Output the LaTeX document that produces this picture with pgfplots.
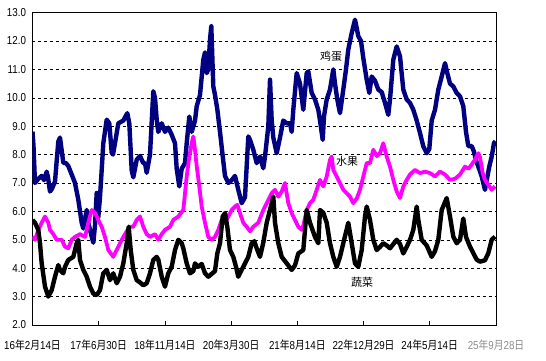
\documentclass[border=0pt]{standalone}
\usepackage{fontspec}
\setmainfont{Liberation Sans}[FakeStretch=0.85]
\newfontfamily\cjk{Noto Sans CJK SC}[FakeStretch=0.85]
\newfontfamily\cjklab{Noto Sans CJK SC}
\usepackage{pgfplots}
\pgfplotsset{compat=1.18}
\newcommand{\dt}[3]{#1{\cjk 年}#2{\cjk 月}#3{\cjk 日}}
\definecolor{eggblue}{RGB}{0,0,128}
\definecolor{fruitpink}{RGB}{255,0,255}
\begin{document}
\begin{tikzpicture}[x=1pt,y=1pt]
\begin{axis}[at={(0,0)}, anchor=south west, scale only axis,
  width=463.5pt, height=312.4pt,
  xmin=32.5, xmax=496, ymin=2, ymax=13,
  xtick={32.5,98.7,164.9,231.1,297.3,363.5,429.7,496},
  xticklabels={\dt{16}{2}{14},\dt{17}{6}{30},\dt{18}{11}{14},\dt{20}{3}{30},\dt{21}{8}{14},\dt{22}{12}{29},\dt{24}{5}{14},{\color{black!45}\dt{25}{9}{28}}},
  ytick={2,3,...,13},
  /pgf/number format/assume math mode=true,
  yticklabel style={/pgf/number format/fixed,/pgf/number format/fixed zerofill,/pgf/number format/precision=1, xshift=-3pt},
  xticklabel style={yshift=-11pt},
  tick label style={font=\fontsize{11.5}{12}\selectfont, text=black},
  tick align=inside, xtick pos=bottom, ytick pos=left,
  major tick length=4pt,
  ytick style={draw=none},
  xtick style={black, line width=0.6pt},
  ymajorgrids, grid style={black, line width=0.6pt, dash pattern=on 3pt off 3pt},
  axis line style={black, line width=0.8pt},
  clip=true,
]
\addplot[eggblue, line width=4.4pt, line join=round] coordinates {
(32.5,8.81)(33.5,8.3)(35,7.0)(38.3,7.15)(41.7,7.25)(44,7.1)(46.7,7.40)(48,7.2)(50,6.70)(52,6.8)(55,7.05)(58.3,8.46)(60,8.60)(61.5,8.2)(63.3,7.71)(66,7.7)(68.3,7.6)(71.7,7.3)(75,7.0)(78.3,6.41)(81.7,5.6)(83.3,5.4)(86.7,6.05)(88.3,5.6)(91.7,5.11)(93.3,4.9)(95,5.5)(96.7,6.65)(98.3,5.8)(100,6.5)(101.7,7.46)(103.3,8.4)(106.7,9.23)(109.3,9.1)(111.7,8.06)(113,8.0)(115,8.4)(118.3,9.1)(123.3,9.2)(127.3,9.46)(129.3,9.1)(131.7,7.45)(133.3,7.2)(136.7,7.82)(140,7.95)(143.3,7.7)(145,7.7)(146.7,7.36)(150,8.0)(153.3,10.23)(155,10.0)(156.7,9.23)(158.3,8.8)(161.7,9.1)(165,8.8)(168.3,8.95)(171.7,8.7)(175,8.4)(176.7,7.5)(179.3,6.88)(181.7,7.5)(185,7.7)(186.7,8.4)(189.3,9.34)(191.7,8.8)(195,9.2)(196.7,9.70)(200,10.1)(203.3,11.34)(205,11.6)(206.7,10.87)(208.3,11.0)(210,12.05)(211.3,12.52)(213.3,10.4)(215,10.1)(217.3,9.6)(220,8.8)(222.7,7.95)(225,7.25)(228.3,7.0)(231.7,7.1)(235,7.25)(238.3,6.76)(241.7,6.29)(245,6.5)(246.7,7.6)(248.3,8.64)(250,8.52)(253.3,8.17)(256.7,7.70)(260,7.93)(263.3,7.52)(265,7.93)(268.3,8.99)(270,10.64)(271.7,9.2)(273.3,8.6)(276.7,8.05)(280,8.6)(283.3,9.2)(286.7,9.1)(290,9.1)(291.7,8.8)(293.3,9.58)(296.7,10.87)(300,10.5)(303.3,9.58)(306.7,10.87)(308.3,10.93)(311.7,10.17)(315,9.94)(318.3,9.58)(320,9.2)(322.7,8.52)(324,9.35)(326.7,9.94)(330,10.29)(333.3,11.0)(335,10.5)(337.3,9.94)(340,9.46)(343.3,10.29)(346,11.0)(348.3,11.7)(351.7,12.28)(355,12.75)(358.3,12.17)(361,12.0)(363.3,11.4)(366.7,10.64)(369.3,10.17)(371.7,10.75)(375,10.6)(378.3,10.29)(381.7,10.2)(385,9.82)(388.3,9.40)(390,9.94)(393.3,11.34)(396.7,11.81)(400,11.46)(403.3,10.29)(406.7,9.94)(410,9.82)(413.3,9.58)(416.7,9.2)(420,8.76)(423.3,8.29)(426.7,8.05)(429.3,8.2)(431.7,9.2)(435,9.58)(438.3,10.29)(441.7,10.75)(445,11.22)(447.3,10.87)(450,10.5)(453.3,10.4)(456.7,10.17)(460,10.05)(463.3,9.7)(466,8.8)(468.3,8.3)(471.7,8.3)(474,8.1)(476,7.8)(478.3,7.58)(481.7,7.23)(485,6.76)(486.7,7.1)(489.3,7.58)(491.7,7.93)(494,8.41)(495.5,8.47)
};
\addplot[fruitpink, line width=3.8pt, line join=round] coordinates {
(32.5,5.11)(35,5.0)(38.3,5.35)(41.7,5.6)(45,5.82)(48.3,5.6)(50,5.35)(53.3,5.2)(56.7,5.0)(61.7,5.0)(65,4.76)(68.3,4.7)(71.7,5.0)(75,5.1)(80,5.2)(85,5.1)(88.3,5.6)(91.7,6.05)(95,5.95)(98.3,5.7)(101.7,5.46)(105,5.1)(108.3,4.64)(113.3,4.4)(116.7,4.64)(120,4.88)(123.3,5.1)(126.7,5.3)(130,5.46)(133.3,5.46)(136.7,5.7)(140,5.82)(143.3,5.46)(146.7,5.2)(150,5.1)(155,5.2)(158.3,5.0)(161.7,5.2)(165,5.35)(170,5.46)(173.3,5.7)(178.3,5.82)(183.3,6.05)(186.7,7.23)(189.3,7.93)(191.7,8.4)(193.3,8.64)(195,8.17)(196.7,7.6)(199.3,6.88)(201.7,6.17)(205,5.6)(208.3,5.1)(211.7,5.0)(215,5.1)(218.3,5.35)(221.7,5.7)(225,5.6)(228.3,5.82)(231.7,6.05)(235,6.17)(237.3,6.23)(240,5.94)(243.3,5.6)(246.7,5.46)(250,5.3)(253.3,5.46)(258.3,5.6)(263.3,6.05)(266.7,6.29)(271.7,6.64)(275,6.76)(278.3,6.52)(281.7,6.7)(285,7.0)(288.3,6.29)(291.7,5.94)(295,5.7)(298.3,5.46)(301.7,5.35)(303.3,5.5)(306.7,6.05)(310,6.29)(313.3,6.41)(316.7,6.76)(320,7.11)(323.3,6.88)(326.7,7.23)(330,7.82)(331.7,7.93)(333.3,7.46)(336.7,7.23)(340,7.0)(343.3,6.76)(346.7,6.64)(350,6.52)(353.3,6.29)(356.7,6.45)(360,6.76)(363.3,7.23)(366.7,7.7)(370,7.7)(373.3,8.17)(376.7,7.95)(380,8.05)(383.3,8.4)(386.7,7.93)(390,7.58)(393.3,7.11)(396.7,6.70)(400,6.47)(403.3,6.88)(406.7,7.11)(410,7.3)(415,7.46)(420,7.35)(425,7.4)(430,7.35)(435,7.23)(440,7.4)(445,7.3)(450,7.11)(455,7.15)(460,7.3)(465,7.58)(468.3,7.5)(471.7,7.65)(475,7.82)(478.3,8.05)(480,7.9)(482.7,7.35)(485,7.11)(488.3,6.94)(491.7,6.76)(495,6.88)
};
\addplot[black, line width=4.4pt, line join=round] coordinates {
(32.5,5.70)(35,5.6)(38.3,5.35)(40,4.88)(41.7,4.17)(45,3.35)(48.3,3.0)(51.7,3.23)(55,3.7)(58.3,4.11)(60,3.94)(63.3,3.82)(65,4.05)(68.3,4.29)(73.3,4.4)(76.7,4.88)(78.3,5.0)(80,4.29)(83.3,3.94)(86.7,3.7)(90,3.35)(93.3,3.11)(96.7,3.05)(100,3.23)(103.3,3.82)(106.7,3.94)(110,3.58)(113.3,3.82)(116.7,3.47)(120,3.7)(123.3,4.17)(126.7,4.88)(128.7,5.46)(130.7,4.64)(133.3,3.94)(136.7,3.58)(140,3.5)(143.3,3.4)(146.7,3.47)(150,3.82)(153.3,4.29)(156.7,4.4)(158.3,4.3)(161.7,3.7)(165,3.35)(168.3,3.82)(171.7,4.05)(175,4.64)(178.3,5.0)(181.7,4.88)(183.3,4.7)(186.7,4.17)(190,3.82)(193.3,3.9)(195,4.17)(198.3,4.05)(201.7,4.15)(205,3.82)(208.3,3.7)(211.7,3.8)(215,3.9)(217.3,4.52)(220,4.88)(222.7,5.82)(225,5.94)(227.3,5.46)(230,4.64)(233.3,4.4)(236,4.05)(238.3,3.7)(241.7,3.94)(245,4.17)(248.3,4.4)(251.7,4.88)(254.3,4.95)(256.7,4.7)(260,4.4)(263.3,4.9)(266.7,5.6)(270,6.05)(273.3,6.52)(275,5.6)(278.3,4.88)(281.7,4.4)(286.7,4.17)(291.7,3.94)(295,4.1)(298.3,4.52)(303.3,4.64)(305,5.35)(306.7,6.05)(310,5.6)(315,5.1)(318.3,4.88)(320,6.05)(323.3,5.95)(326.7,5.6)(330,4.88)(333.3,4.4)(336.7,4.05)(340,4.4)(343.3,4.88)(348.3,5.6)(351.7,4.88)(355,4.17)(358.3,4.05)(361.7,4.64)(365,5.82)(366.7,6.17)(370,5.7)(373.3,5.0)(376.7,4.64)(380,4.75)(383.3,4.88)(386.7,4.8)(390,4.7)(393.3,4.85)(396.7,5.0)(400,4.85)(403.3,4.52)(406.7,4.75)(410,5.0)(413.3,5.35)(416.7,6.17)(418.3,5.7)(421.7,5.0)(426.7,4.8)(431.7,4.4)(435,4.6)(438.3,5.0)(441.7,6.05)(446.7,6.47)(450,5.82)(453.3,5.11)(456.7,4.88)(460,5.0)(463.3,5.75)(466,5.1)(470,4.76)(473.3,4.53)(476.7,4.3)(480,4.23)(485,4.28)(488.3,4.53)(491.7,5.0)(495,5.11)
};
\node[font=\cjklab\fontsize{11}{12}\selectfont] at (axis cs:331,11.45) {鸡蛋};
\node[font=\cjklab\fontsize{11}{12}\selectfont] at (axis cs:347,7.75) {水果};
\node[font=\cjklab\fontsize{11}{12}\selectfont] at (axis cs:362,3.51) {蔬菜};
\end{axis}
\pgfresetboundingbox
\useasboundingbox (-32.5,-35) rectangle (513.5,325);
\end{tikzpicture}
\end{document}
